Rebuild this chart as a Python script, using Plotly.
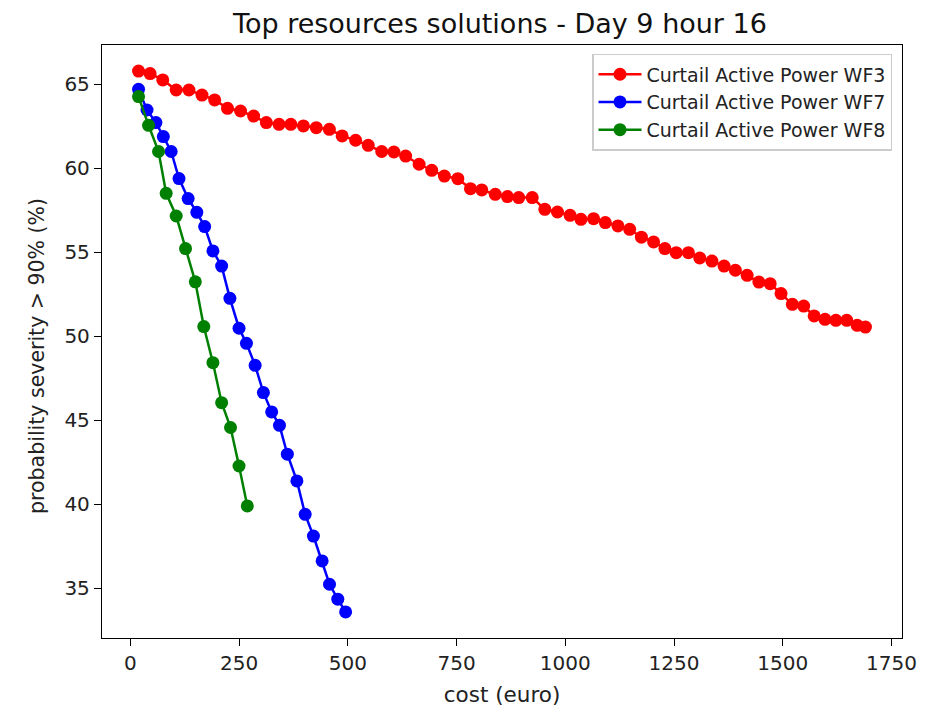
import plotly.graph_objects as go

# WF3 (red)
wf3_cost = [19, 45.5, 74.7, 105.6, 134.8, 164.8, 194, 223.5, 253.5, 283.6, 312.8, 342, 369, 398, 427.6,
            457.7, 487, 518, 547, 578, 606, 633, 664, 693, 722, 753, 782, 808, 839, 867, 893, 924, 953,
            982, 1011, 1036, 1065, 1092, 1121, 1148, 1175, 1203, 1229, 1255, 1283, 1309, 1337, 1365,
            1391, 1418, 1445, 1471, 1496, 1522, 1548, 1572, 1597, 1622, 1647, 1671, 1690]
wf3_prob = [65.79, 65.64, 65.26, 64.66, 64.66, 64.36, 64.07, 63.57, 63.41, 63.11, 62.72, 62.62, 62.62,
            62.52, 62.42, 62.32, 61.93, 61.67, 61.37, 61.0, 60.97, 60.73, 60.24, 59.88, 59.54, 59.38,
            58.79, 58.71, 58.45, 58.32, 58.26, 58.26, 57.56, 57.40, 57.2, 56.96, 57.0, 56.77, 56.57,
            56.37, 55.9, 55.62, 55.22, 54.98, 54.98, 54.66, 54.48, 54.18, 53.93, 53.63, 53.23, 53.13,
            52.54, 51.9, 51.80, 51.21, 51.01, 50.95, 50.95, 50.65, 50.55]

# WF7 (blue)
wf7_cost = [19, 38.5, 59, 76, 94, 112, 133, 153, 171, 190, 210, 229, 250, 267, 287, 306, 325, 343, 361,
            383, 402, 421, 441, 458, 477, 495]
wf7_prob = [64.70, 63.47, 62.72, 61.89, 61.0, 59.39, 58.2, 57.38, 56.53, 55.08, 54.18, 52.26, 50.48,
            49.58, 48.27, 46.65, 45.5, 44.70, 42.98, 41.39, 39.40, 38.11, 36.63, 35.24, 34.35, 33.59]

# WF8 (green)
wf8_cost = [19, 42, 65, 82.5, 105.6, 127, 149.5, 169, 190, 210, 230.5, 250, 269]
wf8_prob = [64.27, 62.56, 61.0, 58.51, 57.16, 55.22, 53.24, 50.58, 48.43, 46.05, 44.57, 42.28, 39.9]

x_ticks = [0, 250, 500, 750, 1000, 1250, 1500, 1750]
y_ticks = [35, 40, 45, 50, 55, 60, 65]

FONT = "DejaVu Sans"
series = [
    ("Curtail Active Power WF3", wf3_cost, wf3_prob, "#ff0000"),
    ("Curtail Active Power WF7", wf7_cost, wf7_prob, "#0000ff"),
    ("Curtail Active Power WF8", wf8_cost, wf8_prob, "#008000"),
]

fig = go.Figure()
for name, xs, ys, col in series:
    fig.add_trace(go.Scatter(x=xs, y=ys, name=name, mode="lines+markers",
                             line=dict(color=col, width=2.5),
                             marker=dict(color=col, size=13)))

axis_common = dict(showline=True, linecolor="black", linewidth=1.3, mirror=True,
                   ticks="outside", ticklen=7, tickwidth=1.2, tickcolor="black",
                   showgrid=False, zeroline=False, automargin=False,
                   tickfont=dict(family=FONT, size=20, color="#222"))

fig.update_layout(
    width=945, height=711,
    margin=dict(l=94, r=51, t=37, b=81),
    paper_bgcolor="white", plot_bgcolor="white",
    title=dict(text="Top resources solutions - Day 9 hour 16", x=0.5206, xanchor="center",
               y=0.978, yanchor="middle", font=dict(family=FONT, size=27, color="#111")),
    xaxis=dict(range=[-65, 1774], tickvals=x_ticks,
               title=dict(text="cost (euro)", font=dict(family=FONT, size=21.5, color="#222"), standoff=12),
               **axis_common),
    yaxis=dict(range=[32.04, 67.34], tickvals=y_ticks, **axis_common),
    legend=dict(x=0.9875, y=0.985, xanchor="right", yanchor="top",
                bgcolor="white", bordercolor="#cccccc", borderwidth=1.5,
                font=dict(family=FONT, size=19, color="#222"),
                itemwidth=43, tracegroupgap=2),
    showlegend=True,
)

fig.add_annotation(text="probability severity > 90% (%)", textangle=-90,
                   xref="paper", yref="paper", x=-0.081, y=0.476,
                   xanchor="center", yanchor="middle", showarrow=False,
                   font=dict(family=FONT, size=20.5, color="#222"))

fig.write_html("out.html")
